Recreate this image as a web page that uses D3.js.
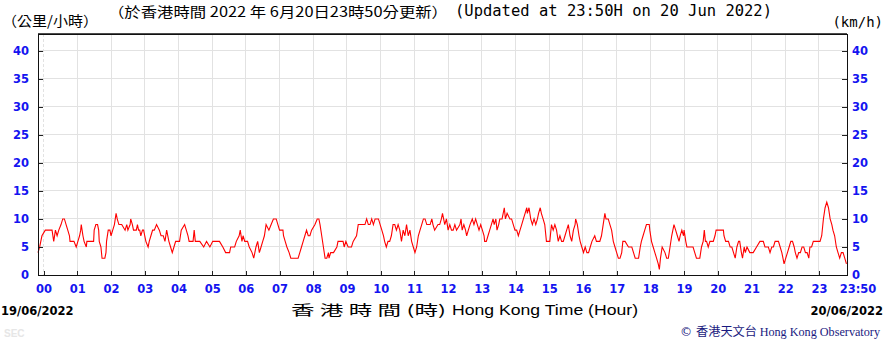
<!DOCTYPE html>
<html>
<head>
<meta charset="utf-8">
<script src="https://cdn.jsdelivr.net/npm/d3@7"></script>
<style>
  body { margin: 0; background: #fff; }
  svg { display: block; }
</style>
</head>
<body>
<svg width="884" height="341"></svg>
<script>
// minutes after 00:00 on 20/06/2022 (starts 23:50 on 19/06), wind speed km/h
const readings = [
  [-10,4],[-7,5],[-3,7],[3,8],[15,8],[18,6],[21,8],[24,7],[27,8],[31,9],[34,10],[37,10],[40,9],[43,8],[46,7],[47,6],
  [54,6],[58,5],[61,6],[64,7],[66,8],[67,9],[70,7],[72,6],[76,5],[77,6],[89,6],[90,8],[93,9],[96,9],[98,8],[99,6],
  [102,5],[104,3],[109,3],[111,4],[112,6],[115,8],[118,8],[120,7],[123,8],[126,9],[129,11],[131,10],[134,9],[139,9],
  [145,8],[148,9],[150,8],[154,9],[155,10],[158,9],[160,8],[165,8],[167,9],[169,8],[171,8],[173,7],[176,8],[178,8],
  [180,7],[182,6],[186,5],[188,6],[191,7],[194,8],[197,8],[201,9],[206,8],[209,7],[213,7],[216,6],[219,8],[223,6],
  [226,5],[229,4],[232,5],[235,6],[242,6],[245,8],[251,9],[254,8],[257,7],[259,6],[266,6],[268,8],[270,6],[278,6],
  [285,5],[290,6],[296,5],[301,6],[313,6],[319,5],[324,4],[331,4],[333,5],[340,5],[343,6],[348,7],[350,8],[353,6],
  [355,7],[358,6],[363,6],[366,5],[371,4],[374,3],[376,4],[378,5],[381,6],[384,4],[387,5],[390,6],[393,7],[396,9],
  [401,8],[405,9],[409,10],[414,10],[417,9],[420,8],[426,8],[427,7],[430,6],[433,5],[437,4],[440,3],
  [444,3],[453,3],[456,4],[459,5],[462,6],[465,7],[468,8],[471,7],[474,7],[477,8],[483,9],[487,10],[490,10],[492,9],
  [495,7],[498,5],[501,3],[504,3],[507,4],[508,3],[511,4],[516,4],[522,5],[524,6],[533,6],[535,5],[538,6],[542,5],
  [548,5],[551,6],[557,7],[560,9],[572,9],[575,10],[578,9],[581,9],[584,10],[587,9],[590,10],[596,10],[599,9],[602,8],
  [605,7],[607,6],[610,5],[613,6],[616,6],[619,7],[622,9],[625,9],[628,8],[631,9],[634,8],[637,6],[640,8],[643,7],
  [646,9],[649,7],[652,8],[655,6],[658,5],[661,4],[664,5],[667,7],[670,8],[673,9],[676,10],[679,10],[682,9],[688,9],
  [691,10],[693,9],[696,8],[702,9],[705,9],[708,10],[710,11],[712,10],[714,9],[717,10],[720,8],[723,9],[726,8],[729,8],
  [732,9],[735,8],[741,9],[743,10],[745,8],[748,9],[751,8],[753,7],[756,8],[759,9],[763,10],[766,9],[769,10],[772,9],
  [775,8],[778,9],[781,8],[784,7],[785,6],[788,6],[791,7],[794,8],[797,9],[800,10],[802,9],[805,10],[807,8],[810,9],
  [812,10],[816,10],[818,11],[820,12],[822,10],[825,11],[830,10],[833,10],[836,9],[839,8],[842,8],[845,7],[848,8],
  [851,9],[854,10],[857,11],[860,12],[861,11],[864,12],[867,10],[870,9],[873,10],[876,9],[879,10],[881,11],[884,12],
  [886,11],[889,10],[892,9],[895,6],[898,6],[901,6],[904,9],[907,8],[910,9],[913,8],[916,6],[919,7],[922,6],[925,6],
  [928,7],[931,8],[934,9],[937,7],[940,6],[943,8],[946,9],[947,10],[950,9],[953,7],
  [955,6],[958,5],[961,4],[964,5],[967,4],[970,4],[973,5],[976,6],[981,7],[984,6],[990,6],[993,7],[996,9],[999,11],
  [1001,10],[1005,10],[1008,9],[1011,8],[1014,6],[1017,5],[1020,4],[1023,3],[1026,3],[1029,4],[1031,6],[1035,6],
  [1041,5],[1047,5],[1050,4],[1053,3],[1059,3],[1062,5],[1064,6],[1067,7],[1070,8],[1073,9],[1078,9],[1079,8],
  [1082,6],[1085,5],[1088,4],[1091,3],[1094,2],[1096,1],[1098,3],[1101,5],[1106,4],[1109,3],[1112,3],[1115,5],
  [1118,7],[1122,9],[1125,8],[1128,7],[1131,6],[1133,7],[1136,8],[1139,7],[1140,8],[1143,6],[1145,5],[1156,5],
  [1159,4],[1162,3],[1168,3],[1171,5],[1174,6],[1176,8],[1178,6],[1180,6],[1183,5],[1186,6],[1192,6],[1195,7],
  [1197,8],[1210,8],[1211,7],[1214,6],[1219,6],[1222,5],[1225,5],[1228,4],[1231,3],[1234,5],[1237,6],[1239,6],
  [1242,4],[1244,3],[1247,5],[1249,4],[1252,5],[1257,4],[1263,4],[1269,5],[1275,6],[1281,6],[1284,5],[1290,5],
  [1293,4],[1296,5],[1299,5],[1302,6],[1308,6],[1311,5],[1314,4],[1316,3],[1318,2],[1321,3],[1324,4],[1327,5],
  [1330,6],[1333,6],[1336,5],[1338,4],[1341,3],[1344,4],[1347,4],[1350,5],[1353,5],[1356,4],[1359,4],[1362,3],
  [1364,5],[1367,5],[1370,6],[1382,6],[1385,7],[1388,10],[1391,12],[1394,13],[1397,12],[1400,10],[1403,9],[1405,8],
  [1408,7],[1411,5],[1414,4],[1417,3],[1420,4],[1423,4],[1426,3],[1429,2]
];

const hours = d3.range(0, 24);
const hourLabels = hours.map(h => String(h).padStart(2, '0'));
const speedTicks = [0, 5, 10, 15, 20, 25, 30, 35, 40];

const svg = d3.select('svg');
svg.selectAll('*').remove();

const plotLeft = 38, plotRight = 847, plotTop = 34, plotBottom = 275;
const blue = '#1414f0';
const tickFont = '"DejaVu Sans", Verdana, sans-serif';

const x = d3.scaleLinear().domain([-10, 1430]).range([plotLeft, plotRight]);
const y = d3.scaleLinear().domain([0, 43]).range([plotBottom, plotTop]);

// grid
const grid = svg.append('g').attr('shape-rendering', 'crispEdges');
grid.selectAll('.vg')
    .data(hours)
    .join('line')
    .attr('x1', h => x(h * 60)).attr('x2', h => x(h * 60))
    .attr('y1', plotTop).attr('y2', plotBottom)
    .attr('stroke', '#e2e2e2')
    .attr('stroke-dasharray', h => h === 0 ? '3,2' : null);
grid.selectAll('.hg')
    .data(speedTicks.slice(1))
    .join('line')
    .attr('x1', plotLeft).attr('x2', plotRight)
    .attr('y1', d => y(d)).attr('y2', d => y(d))
    .attr('stroke', '#e2e2e2');

// wind line
const line = d3.line()
    .x(d => x(d[0]))
    .y(d => y(d[1]));

svg.append('path')
    .datum(readings)
    .attr('d', line)
    .attr('fill', 'none')
    .attr('stroke', '#ff0000')
    .attr('stroke-width', 1.1);

// axes
const styleAxis = g => {
    g.select('.domain').remove();
    g.selectAll('line').attr('stroke', '#222');
    g.selectAll('text')
        .attr('fill', blue)
        .attr('font-family', tickFont)
        .attr('font-weight', 'bold')
        .attr('font-size', '11.5px');
};

svg.append('g')
    .attr('transform', `translate(${plotLeft},0)`)
    .attr('shape-rendering', 'crispEdges')
    .call(d3.axisLeft(y).tickValues(speedTicks).tickSize(-5).tickPadding(9))
    .call(styleAxis);

svg.append('g')
    .attr('transform', `translate(${plotRight},0)`)
    .attr('shape-rendering', 'crispEdges')
    .call(d3.axisRight(y).tickValues(speedTicks).tickSize(-5).tickPadding(5))
    .call(styleAxis);

svg.append('g')
    .attr('transform', `translate(0,${plotBottom})`)
    .attr('shape-rendering', 'crispEdges')
    .call(d3.axisBottom(x).tickValues(hours.map(h => h * 60))
        .tickFormat((d, i) => hourLabels[i]).tickSize(-4).tickPadding(10))
    .call(styleAxis);

svg.append('text')
    .attr('x', 858).attr('y', 293)
    .attr('text-anchor', 'middle')
    .attr('fill', blue)
    .attr('font-family', tickFont)
    .attr('font-weight', 'bold')
    .attr('font-size', '11.5px')
    .text('23:50');

// frame
svg.append('rect')
    .attr('x', plotLeft).attr('y', plotTop)
    .attr('width', plotRight - plotLeft).attr('height', plotBottom - plotTop)
    .attr('fill', 'none')
    .attr('stroke', '#111')
    .attr('shape-rendering', 'crispEdges');
svg.append('line')
    .attr('x1', plotLeft).attr('x2', plotRight).attr('y1', plotTop).attr('y2', plotTop)
    .attr('stroke', '#111').attr('stroke-width', 1.5);

// titles
const cjk = '"Noto Sans CJK TC", "Noto Sans CJK SC", sans-serif';
svg.append('text')
    .attr('x', 2).attr('y', 26)
    .attr('font-family', cjk).attr('font-size', '14px')
    .attr('textLength', 96).attr('lengthAdjust', 'spacingAndGlyphs')
    .text('（公里/小時）');
svg.append('text')
    .attr('x', 108).attr('y', 17)
    .attr('font-family', cjk).attr('font-size', '14px')
    .attr('textLength', 340).attr('lengthAdjust', 'spacingAndGlyphs')
    .text('（於香港時間 2022 年 6月20日23時50分更新）');
svg.append('text')
    .attr('x', 455).attr('y', 16)
    .attr('font-family', '"DejaVu Sans Mono", monospace').attr('font-size', '15px')
    .attr('textLength', 317).attr('lengthAdjust', 'spacingAndGlyphs')
    .text('(Updated at 23:50H on 20 Jun 2022)');
svg.append('text')
    .attr('x', 883).attr('y', 27)
    .attr('text-anchor', 'end')
    .attr('font-family', '"DejaVu Sans Mono", monospace').attr('font-size', '14px')
    .text('(km/h)');

// bottom labels
svg.append('text')
    .attr('x', 1).attr('y', 315)
    .attr('font-family', tickFont).attr('font-weight', 'bold').attr('font-size', '11.5px')
    .text('19/06/2022');
svg.append('text')
    .attr('x', 883).attr('y', 315)
    .attr('text-anchor', 'end')
    .attr('font-family', tickFont).attr('font-weight', 'bold').attr('font-size', '11.5px')
    .text('20/06/2022');
svg.append('text')
    .attr('x', 291).attr('y', 315)
    .attr('font-family', cjk).attr('font-size', '14px')
    .attr('textLength', 155).attr('lengthAdjust', 'spacingAndGlyphs')
    .text('香 港 時 間 (時)');
svg.append('text')
    .attr('x', 452).attr('y', 315)
    .attr('font-family', '"Liberation Sans", sans-serif').attr('font-size', '15px')
    .attr('textLength', 186).attr('lengthAdjust', 'spacingAndGlyphs')
    .text('Hong Kong Time (Hour)');

const credit = svg.append('text')
    .attr('x', 680).attr('y', 336)
    .attr('fill', '#1a1a80')
    .attr('font-size', '12px')
    .attr('textLength', 200).attr('lengthAdjust', 'spacingAndGlyphs');
credit.append('tspan').attr('font-family', '"DejaVu Sans", sans-serif').text('© ');
credit.append('tspan').attr('font-family', cjk).text('香港天文台 ');
credit.append('tspan').attr('font-family', '"Liberation Serif", serif').text('Hong Kong Observatory');

svg.append('text')
    .attr('x', 4).attr('y', 337)
    .attr('fill', '#e6e6e6')
    .attr('font-family', '"Liberation Sans", sans-serif')
    .attr('font-weight', 'bold').attr('font-size', '10px')
    .text('SEC');
</script>
</body>
</html>
